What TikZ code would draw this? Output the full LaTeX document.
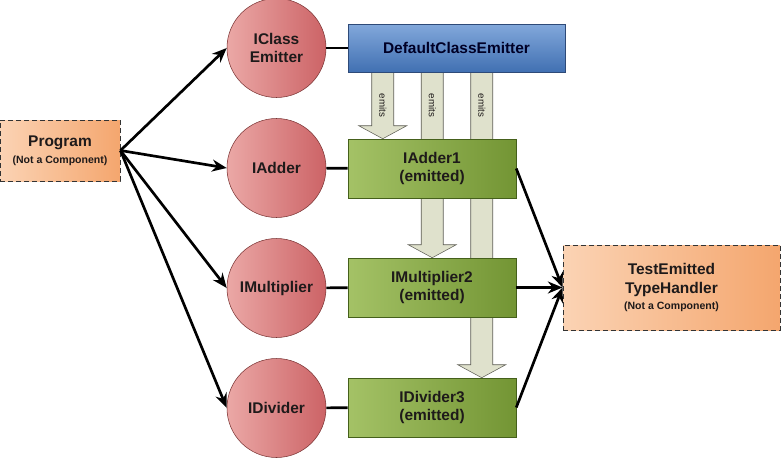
\documentclass[tikz,border=0pt]{standalone}
\usepackage{fontspec}
\setmainfont{Liberation Sans}
\usetikzlibrary{arrows.meta,calc,backgrounds}

\definecolor{progLight}{HTML}{FBD3B4}
\definecolor{progDark}{HTML}{F4A66E}
\definecolor{ifaceLight}{HTML}{EBA8A6}
\definecolor{ifaceDark}{HTML}{CC6366}
\definecolor{ifaceLine}{HTML}{7A3434}
\definecolor{emitterLight}{HTML}{82A8DB}
\definecolor{emitterDark}{HTML}{4170B2}
\definecolor{emitterLine}{HTML}{2E4A78}
\definecolor{implLight}{HTML}{A4C266}
\definecolor{implDark}{HTML}{739534}
\definecolor{implLine}{HTML}{45601B}
\definecolor{emitFill}{HTML}{DFE1CC}
\definecolor{emitLine}{HTML}{5E5E55}
\definecolor{ink}{HTML}{1E1A1A}

\newcommand{\notcomp}{{\fontsize{7.9}{9}\selectfont(Not a Component)}}

\tikzset{
  boxtext/.style={font=\bfseries\fontsize{11.6}{14}\selectfont, text=ink, align=center, inner sep=0pt},
  outsidebox/.style={boxtext, draw=black!80, dash pattern=on 4pt off 2pt, line width=0.7pt, left color=progLight, right color=progDark},
  ifacecircle/.style={boxtext, circle, draw=ifaceLine, thin, minimum size=74.25pt, left color=ifaceLight, right color=ifaceDark},
  emitterbox/.style={boxtext, draw=emitterLine, thin, minimum width=162.75pt, minimum height=36pt, top color=emitterLight, bottom color=emitterDark, text=black!85!blue},
  implbox/.style={boxtext, draw=implLine, thin, minimum width=126pt, minimum height=44.25pt, left color=implLight, right color=implDark},
  link/.style={line width=2pt},
  call/.style={link, -{Stealth[length=11pt,width=9pt]}},
  emitarrow/.style={draw=emitLine, thin, fill=emitFill},
  emitlabel/.style={font=\fontsize{7.3}{8}\selectfont, text=ink, rotate=-90, inner sep=0pt}
}

\begin{document}
\begin{tikzpicture}[x=0.75pt,y=-0.75pt]
  \useasboundingbox (0,0) rectangle (781,457);

  % the caller and the handler
  \node[outsidebox, minimum width=90pt, minimum height=45.75pt] (prog) at (60,150.5) {Program\\[-1pt]\notcomp};
  \node[outsidebox, minimum width=162.75pt, minimum height=63.75pt] (handler) at (671.5,287.5) {TestEmitted\\TypeHandler\\[-2pt]\notcomp};

  % interfaces
  \node[ifacecircle] (iclass) at (276.5,48) {IClass\\Emitter};
  \node[ifacecircle] (iadder) at (276.5,168) {IAdder};
  \node[ifacecircle] (imult) at (276.5,288) {IMultiplier};
  \node[ifacecircle] (idiv) at (276.5,408) {IDivider};

  % emitter and emitted types
  \node[emitterbox] (dce) at (456.5,48) {DefaultClassEmitter};
  \node[implbox] (adder1) at (432,168.5) {IAdder1\\(emitted)};
  \node[implbox] (mult2) at (432,287.5) {IMultiplier2\\(emitted)};
  \node[implbox] (div3) at (432,407.5) {IDivider3\\(emitted)};

  % emits arrows behind the boxes
  \begin{scope}[on background layer]
    \foreach \dx/\tgt in {35/adder1, 84.5/mult2, 134/div3}{
      \coordinate (top) at ($(dce.south west)+(\dx,0)$);
      \coordinate (tip) at (top |- \tgt.north);
      \draw[emitarrow] ($(top)+(-11,-2)$) -- ($(tip)+(-11,-13)$) -- ($(tip)+(-24,-13)$)
        -- (tip) -- ($(tip)+(24,-13)$) -- ($(tip)+(11,-13)$) -- ($(top)+(11,-2)$) -- cycle;
      \node[emitlabel] at ($(top)+(0,33)$) {emits};
    }
  \end{scope}

  % program uses the interfaces
  \foreach \n in {iclass,iadder,imult,idiv}
    \draw[call] (prog.east) -- (\n.west);

  \draw[link] (iclass) -- (dce);
  \draw[link] (iadder) -- (adder1);
  \draw[link] (imult) -- (mult2);
  \draw[link] (idiv) -- (div3);

  \foreach \n in {adder1,mult2,div3}
    \draw[call] (\n.east) -- (handler.west);
\end{tikzpicture}
\end{document}
